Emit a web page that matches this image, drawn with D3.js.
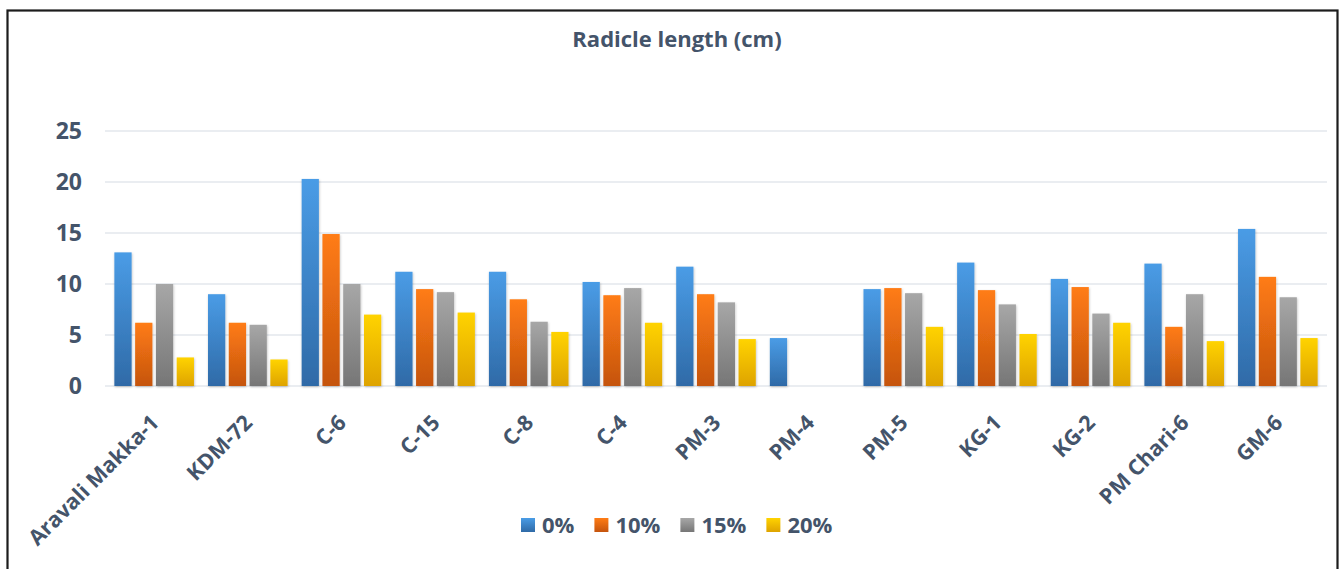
<html lang="en">
<head>
  <title>Radicle length</title>
  <meta charset="utf-8"/>
  <script src="https://d3js.org/d3.v7.min.js"></script>
  <style>
  body { margin: 0; background: #fff; }
  text { font-family: "Open Sans", "Lato", sans-serif; font-weight: bold; fill: #44546a; }
  .grid line { stroke: #e3e7ed; stroke-width: 1.5px; }
  </style>
</head>
<body>
  <svg id="chart" width="1341" height="569"></svg>
  <script>
    const varieties = ["Aravali Makka-1", "KDM-72", "C-6", "C-15", "C-8", "C-4", "PM-3", "PM-4", "PM-5", "KG-1", "KG-2", "PM Chari-6", "GM-6"];
    const levels = ["0%", "10%", "15%", "20%"];
    const pct0  = [13.1, 9.0, 20.3, 11.2, 11.2, 10.2, 11.7, 4.7, 9.5, 12.1, 10.5, 12.0, 15.4];
    const pct10 = [6.2, 6.2, 14.9, 9.5, 8.5, 8.9, 9.0, 0, 9.6, 9.4, 9.7, 5.8, 10.7];
    const pct15 = [10.0, 6.0, 10.0, 9.2, 6.3, 9.6, 8.2, 0, 9.1, 8.0, 7.1, 9.0, 8.7];
    const pct20 = [2.8, 2.6, 7.0, 7.2, 5.3, 6.2, 4.6, 0, 5.8, 5.1, 6.2, 4.4, 4.7];
    const yTicks = [0, 5, 10, 15, 20, 25];
    const series = [pct0, pct10, pct15, pct20];

    // gradient stops, top -> bottom
    const colors = [["#4a9ce6", "#2f6aa7"], ["#ff7c15", "#c5540e"], ["#a7a7a7", "#767676"], ["#ffd300", "#dea300"]];

    const svg = d3.select("#chart");
    const margin = { left: 105, right: 14, top: 131, bottom: 183 };
    const W = 1341, H = 569;

    const defs = svg.append("defs");
    colors.forEach((c, i) => {
      const g = defs.append("linearGradient").attr("id", "grad" + i)
        .attr("x1", 0).attr("y1", 0).attr("x2", 0).attr("y2", 1);
      g.append("stop").attr("offset", "0%").attr("stop-color", c[0]);
      g.append("stop").attr("offset", "100%").attr("stop-color", c[1]);
    });
    const shadow = defs.append("filter").attr("id", "shadow").attr("x", "-30%").attr("y", "-10%").attr("width", "160%").attr("height", "130%");
    shadow.append("feDropShadow").attr("dx", 0.5).attr("dy", 1).attr("stdDeviation", 1.2)
      .attr("flood-color", "#000").attr("flood-opacity", 0.25);

    // frame
    svg.append("rect").attr("x", 7.5).attr("y", 10.5).attr("width", 1330).attr("height", 620)
      .attr("fill", "none").attr("stroke", "#1c1c1c").attr("stroke-width", 2.2);

    svg.append("text").attr("x", 677).attr("y", 47).attr("text-anchor", "middle")
      .attr("font-size", 22).text("Radicle length (cm)");

    const x0 = d3.scaleBand().domain(varieties).range([margin.left, W - margin.right]).paddingInner(0.15).paddingOuter(0.1);
    const x1 = d3.scaleBand().domain(levels).range([0, x0.bandwidth()]).paddingInner(0.17);
    const y = d3.scaleLinear().domain([0, 25]).range([H - margin.bottom, margin.top]);

    const grid = svg.append("g").attr("class", "grid");
    grid.selectAll("line").data(yTicks).join("line")
      .attr("x1", margin.left).attr("x2", W - margin.right)
      .attr("y1", d => y(d)).attr("y2", d => y(d));

    svg.append("g").selectAll("text").data(yTicks).join("text")
      .attr("x", 82).attr("y", d => y(d)).attr("dy", "0.36em")
      .attr("text-anchor", "end").attr("font-size", 23).text(d => d);

    const groups = svg.append("g").selectAll("g").data(varieties).join("g")
      .attr("transform", d => "translate(" + x0(d) + ",0)");
    groups.selectAll("rect").data((d, i) => levels.map((l, j) => ({ level: l, j: j, value: series[j][i] })))
      .join("rect")
      .filter(d => d.value > 0)
      .attr("x", d => x1(d.level))
      .attr("width", x1.bandwidth())
      .attr("y", d => y(d.value))
      .attr("height", d => y(0) - y(d.value))
      .attr("fill", d => "url(#grad" + d.j + ")")
      .attr("filter", "url(#shadow)");

    svg.append("g").selectAll("text").data(varieties).join("text")
      .attr("text-anchor", "end").attr("font-size", 21.5)
      .attr("transform", d => "translate(" + (x0(d) + x0.bandwidth() / 2 + 6) + ",424) rotate(-45)")
      .text(d => d);

    // legend
    const legend = svg.append("g");
    let lx = 0;
    levels.forEach((l, i) => {
      const item = legend.append("g").attr("transform", "translate(" + lx + ",0)");
      item.append("rect").attr("x", 0).attr("y", -7).attr("width", 14).attr("height", 14).attr("fill", "url(#grad" + i + ")");
      const t = item.append("text").attr("x", 21).attr("y", 0).attr("dy", "0.36em").attr("font-size", 22).text(l);
      lx += 21 + t.node().getComputedTextLength() + 20;
    });
    legend.attr("transform", "translate(" + (521) + ",525)");
  </script>
</body>
</html>
